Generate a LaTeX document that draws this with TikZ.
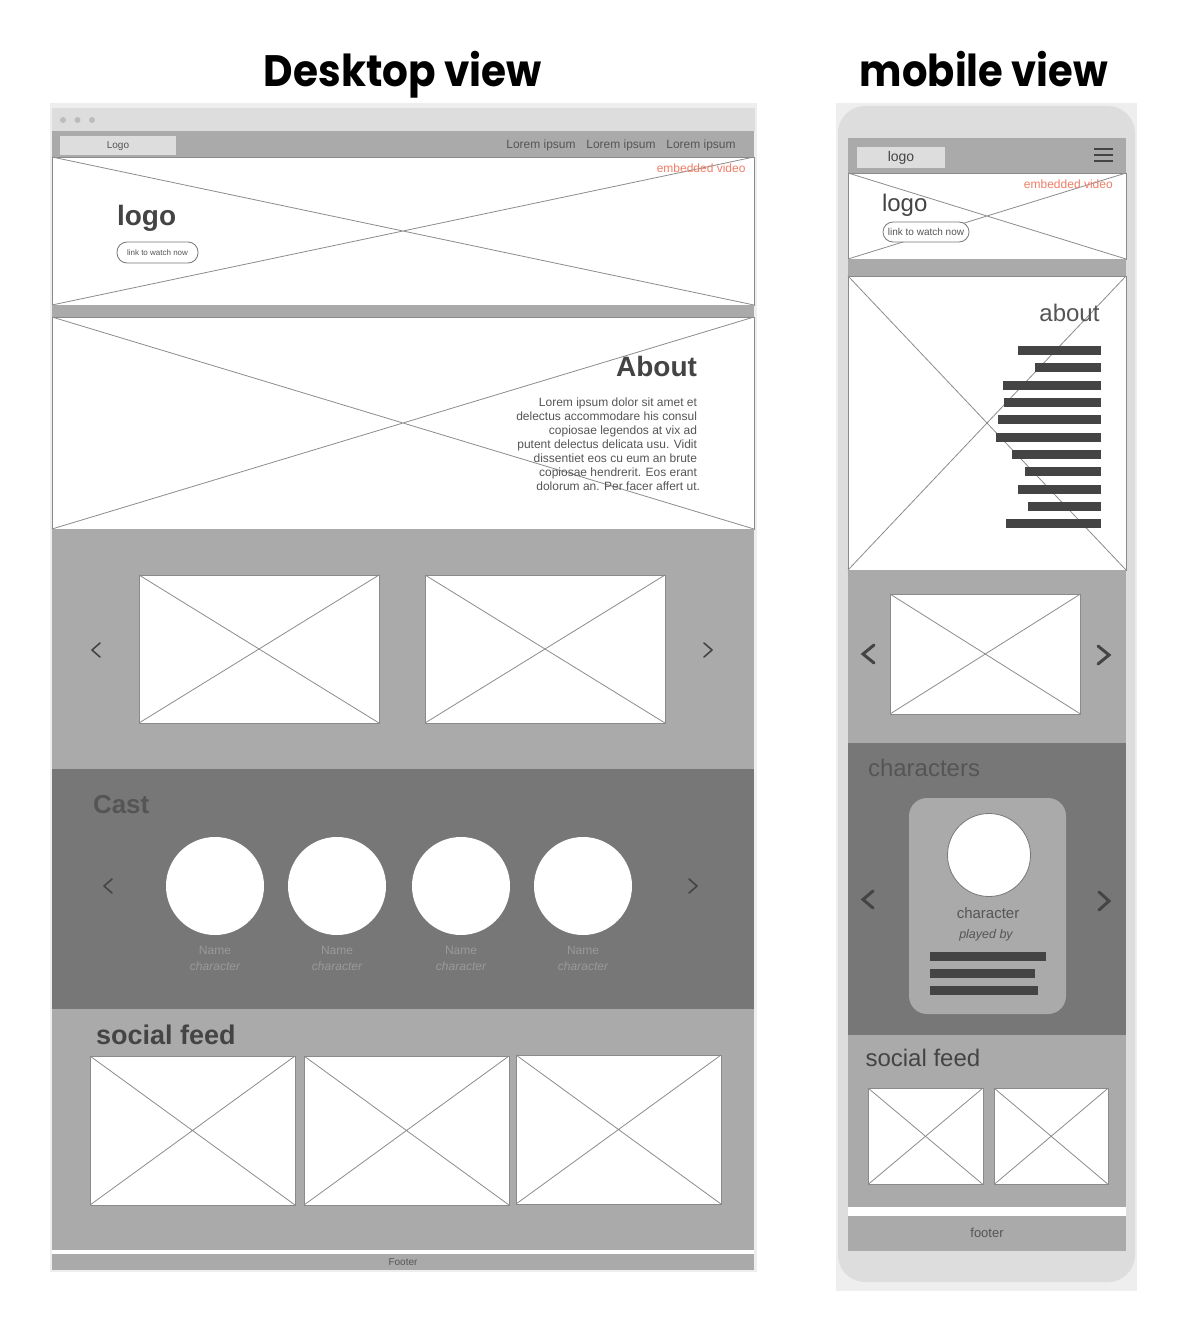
\documentclass[tikz,border=0pt]{standalone}
\usepackage{graphicx}
\usepackage{fontspec}
\setmainfont{Liberation Sans}
\newfontfamily\titlefont{Poppins}
\definecolor{lgray}{HTML}{DDDDDD}
\definecolor{frame}{HTML}{EEEEEE}
\definecolor{mgray}{HTML}{AAAAAA}
\definecolor{dgray}{HTML}{777777}
\definecolor{txt}{HTML}{555555}
\definecolor{txtd}{HTML}{444444}
\definecolor{txtl}{HTML}{9A9A9A}
\definecolor{redv}{HTML}{F07E66}
\definecolor{crossc}{HTML}{8C8C8C}
\definecolor{boxc}{HTML}{8A8A8A}
\newcommand\fsz[2]{\fontsize{#1}{#2}\selectfont}
\newcommand\wfbox[4]{%
  \draw[boxline] (#1,#2) rectangle (#3,#4);
  \draw[xline] (#1,#2) -- (#3,#4) (#1,#4) -- (#3,#2);}
\tikzset{
  boxline/.style={draw=boxc, line width=0.8pt, fill=white},
  xline/.style={draw=crossc, line width=0.8pt},
  lbl/.style={inner sep=0pt, outer sep=0pt, text=txt},
  chevd/.style={draw=txtd, line width=1.6pt, line cap=round, line join=round},
  chevm/.style={draw=txtd, line width=3pt, line cap=round, line join=miter},
  barm/.style={fill=txtd, draw=none},
  pill/.style={draw=dgray, line width=0.8pt, fill=white, rounded corners=10pt},
  ttl/.style={inner sep=0pt, text=black, font=\titlefont\bfseries\fsz{44}{50}},
}
\begin{document}
\begin{tikzpicture}[x=1pt,y=-1pt]
\useasboundingbox (0,0) rectangle (1192,1332);
\fill[white] (0,0) rectangle (1192,1332);

% ---------- titles ----------
\node[ttl, anchor=base] (tdesk) at (403,87) {\scalebox{0.922}[1]{Desktop view}};
\node[ttl, anchor=base] (tmob) at (984,87) {\scalebox{0.91}[1]{mobile view}};

% ================= DESKTOP =================
\fill[frame] (50,103) rectangle (757,1272);
\fill[lgray] (52,108) rectangle (755,131);
\foreach \dx in {63,77.5,92} \fill[lgray!85!black] (\dx,120) circle (3);
% nav
\fill[mgray] (52,131) rectangle (754,157);
\fill[lgray] (60,136) rectangle (176,155);
\node[lbl, font=\fsz{10}{12}] (dlogo) at (118,146) {Logo};
\node[lbl, font=\fsz{12}{14}] (nav1) at (541,145.5) {Lorem ipsum};
\node[lbl, font=\fsz{12}{14}] (nav2) at (621,145.5) {Lorem ipsum};
\node[lbl, font=\fsz{12}{14}] (nav3) at (701,145.5) {Lorem ipsum};
% hero
\wfbox{52}{157}{754}{305}
\node[lbl, text=redv, font=\fsz{12}{14}, anchor=east] (dvid) at (745.5,168.5) {embedded video};
\node[lbl, text=txtd, font=\bfseries\fsz{28}{32}, anchor=base west] (dhlogo) at (117,226) {logo};
\draw[pill] (117,242) rectangle (198,263);
\node[lbl, font=\fsz{8}{10}] (dbtn) at (157.5,252.5) {link to watch now};
% strip
\fill[mgray] (52,305) rectangle (754,317);
% about
\wfbox{52}{317}{754}{529}
\node[lbl, text=txtd, font=\bfseries\fsz{28}{32}, anchor=base east] (dabout) at (697,376) {About};
\foreach \ln [count=\i] in {Lorem ipsum dolor sit amet et,delectus accommodare his consul,copiosae legendos at vix ad,putent delectus delicata usu. Vidit,dissentiet eos cu eum an brute,copiosae hendrerit. Eos erant}
  \node[lbl, font=\fsz{12}{14}, anchor=base east] (dp\i) at (697,{392.7+14*\i}) {\ln};
\node[lbl, font=\fsz{12}{14}, anchor=base east] (dp7) at (700,490.7) {dolorum an. Per facer affert ut.};
% carousel
\fill[mgray] (52,529) rectangle (754,769);
\wfbox{139}{575}{379}{723}
\wfbox{425}{575}{665}{723}
\draw[chevd] (100,643) -- (92,650) -- (100,657);
\draw[chevd] (704,643) -- (712,650) -- (704,657);
% cast
\fill[dgray] (52,769) rectangle (754,1009);
\node[lbl, font=\bfseries\fsz{26}{30}, anchor=base west] (dcast) at (93,813) {Cast};
\draw[chevd] (112,879) -- (104,886) -- (112,893);
\draw[chevd] (689,879) -- (697,886) -- (689,893);
\foreach \cx [count=\i] in {215,337,461,583} {
  \fill[white] (\cx,886) circle (49);
  \node[lbl, text=txtl, font=\fsz{12}{14}] (dn\i) at (\cx,950) {Name};
  \node[lbl, text=txtl, font=\itshape\fsz{12}{14}] (dc\i) at (\cx,966) {character};
}
% social
\fill[mgray] (52,1009) rectangle (754,1250);
\node[lbl, text=txtd, font=\bfseries\fsz{27}{30}, anchor=base west] (dsoc) at (96,1044) {social feed};
\wfbox{90}{1056}{295}{1205}
\wfbox{304}{1056}{509}{1205}
\wfbox{516}{1055}{721}{1204}
% footer
\fill[white] (52,1250) rectangle (754,1254);
\fill[mgray] (52,1254) rectangle (754,1270);
\node[lbl, font=\fsz{10}{12}] (dfoot) at (403,1262.5) {Footer};

% ================= MOBILE =================
\fill[frame] (836,103) rectangle (1137,1291);
\fill[lgray, rounded corners=27pt] (838,106) rectangle (1135,1282);
% nav
\fill[mgray] (848,138) rectangle (1126,173);
\fill[lgray] (857,147) rectangle (945,168);
\node[lbl, text=txtd, font=\fsz{14}{16}] (mlogo) at (901,157.5) {logo};
\foreach \hy in {149.3,155,161} \draw[txtd, line width=2.2pt] (1093.5,\hy) -- (1113,\hy);
% hero
\wfbox{848}{173}{1126}{259}
\node[lbl, text=redv, font=\fsz{12}{14}, anchor=east] (mvid) at (1112.7,184) {embedded video};
\node[lbl, text=txtd, font=\fsz{24}{28}, anchor=base west] (mhlogo) at (882,212) {logo};
\draw[pill] (883,222) rectangle (969,242);
\node[lbl, font=\fsz{10}{12}] (mbtn) at (926,232) {link to watch now};
% strip
\fill[mgray] (848,259) rectangle (1126,276);
% about
\wfbox{848}{276}{1126}{570}
\node[lbl, font=\fsz{24}{28}, anchor=base east] (mabout) at (1099.5,321.7) {about};
\foreach \bx/\by in {1017.7/350.3,1035.3/367.7,1003/385,1004/402.3,998/419.7,996/437,1012.3/454.3,1025/471.7,1017.7/489,1028.3/506.3,1006.3/523.7}
  \fill[barm] (\bx,\by-4.5) rectangle (1100.5,\by+4.5);
% carousel
\fill[mgray] (848,570) rectangle (1126,743);
\wfbox{890}{594}{1080.5}{714}
\draw[chevm] (874,645) -- (863,654) -- (874,663);
\draw[chevm] (1098,646) -- (1109,655) -- (1098,664);
% characters
\fill[dgray] (848,743) rectangle (1126,1035);
\node[lbl, font=\fsz{24}{28}, anchor=base west] (mchars) at (868,776) {characters};
\draw[chevm] (873,891) -- (863,899.5) -- (873,908);
\draw[chevm] (1099,892) -- (1109,901) -- (1099,910);
\fill[mgray, rounded corners=18pt] (909,798) rectangle (1066,1014);
\draw[dgray, line width=0.8pt, fill=white] (989,855) circle (41.5);
\node[lbl, font=\fsz{15}{18}] (mchar) at (988,913) {character};
\node[lbl, font=\itshape\fsz{12.5}{15}] (mplay) at (986,935) {played by};
\fill[barm] (929.5,952) rectangle (1046,960.5);
\fill[barm] (929.5,969) rectangle (1035,977.5);
\fill[barm] (929.5,986) rectangle (1038,994.5);
% social
\fill[mgray] (848,1035) rectangle (1126,1207);
\node[lbl, text=txtd, font=\fsz{24}{28}, anchor=base west] (msoc) at (865.5,1066) {social feed};
\wfbox{868}{1088}{983}{1184.5}
\wfbox{994}{1088}{1108.3}{1184.5}
% footer
\fill[white] (848,1207) rectangle (1126,1216);
\fill[mgray] (848,1216) rectangle (1126,1251);
\node[lbl, font=\fsz{13}{16}] (mfoot) at (987,1233) {footer};
\end{tikzpicture}
\end{document}
